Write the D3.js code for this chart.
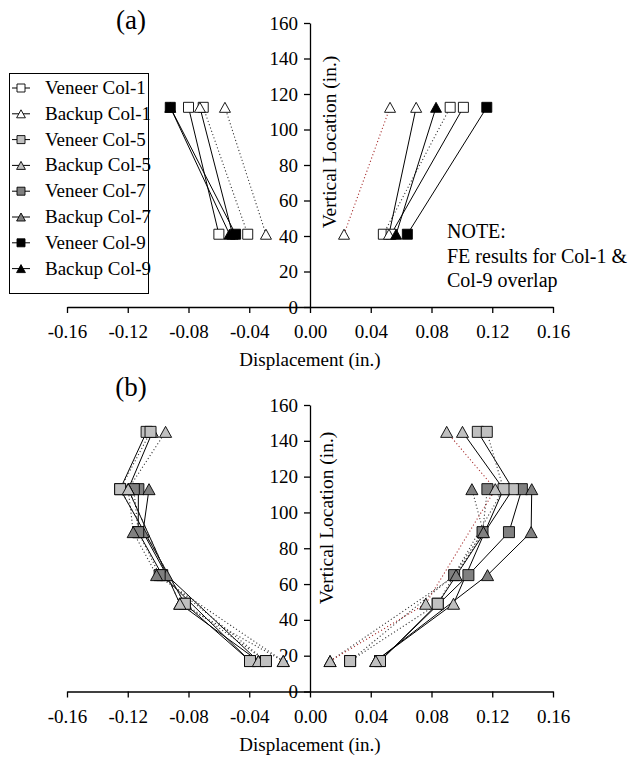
<!DOCTYPE html>
<html>
<head>
<meta charset="utf-8">
<script src="https://cdn.jsdelivr.net/npm/d3@7"></script>
<style>
  html, body { margin: 0; padding: 0; background: #fff; }
  svg { display: block; }
  svg text { font-family: "Liberation Serif", "Times New Roman", serif !important; fill: #000; }
</style>
</head>
<body>
<svg id="chart" width="639" height="764"></svg>
<script>
// ---- axis ticks ----
const xTicks = [-0.16, -0.12, -0.08, -0.04, 0, 0.04, 0.08, 0.12, 0.16];
const yTicks = [0, 20, 40, 60, 80, 100, 120, 140, 160];

// ---- legend ----
const legendNames  = ["Veneer Col-1", "Backup Col-1", "Veneer Col-5", "Backup Col-5",
                      "Veneer Col-7", "Backup Col-7", "Veneer Col-9", "Backup Col-9"];
const legendShapes = ["square", "triangle", "square", "triangle",
                      "square", "triangle", "square", "triangle"];
const legendFills  = ["#ffffff", "#ffffff", "#c0c0c0", "#c0c0c0",
                      "#808080", "#808080", "#000000", "#000000"];

// ---- panel (a): gauge heights (in.) ----
const heightsA = [41, 112.5];
// displacement towards negative side
const aV1Neg   = [-0.060, -0.080];
const aB1Neg   = [-0.051, -0.0725];
const aV1NegFE = [-0.041, -0.0703];
const aB1NegFE = [-0.029, -0.056];
const aV9Neg   = [-0.049, -0.092];
const aB9Neg   = [-0.053, -0.092];
// displacement towards positive side
const aV1Pos   = [0.0534, 0.101];
const aB1Pos   = [0.052, 0.0699];
const aV1PosFE = [0.0483, 0.0923];
const aB1PosFE = [0.0224, 0.0527];
const aV9Pos   = [0.0641, 0.1164];
const aB9Pos   = [0.0567, 0.083];

// ---- panel (b): gauge heights (in.) ----
const heightsC5 = [17, 49, 113, 145];
const heightsC7 = [17, 65, 89, 113];
// positive side
const bV5Pos   = [0.0461, 0.0841, 0.1336, 0.1105];
const bB5Pos   = [0.0433, 0.0945, 0.1274, 0.1004];
const bV5PosFE = [0.0264, 0.0841, 0.1274, 0.1164];
const bB5PosFE = [0.0132, 0.0762, 0.122, 0.090];
const bV7Pos   = [0.0461, 0.1043, 0.131, 0.1395];
const bB7Pos   = [0.0433, 0.1169, 0.1456, 0.146];
const bV7PosFE = [0.0264, 0.0949, 0.1136, 0.1168];
const bB7PosFE = [0.0132, 0.0962, 0.1142, 0.1066];
// negative side
const bV5Neg   = [-0.0395, -0.0824, -0.125, -0.1076];
const bB5Neg   = [-0.034, -0.0857, -0.1197, -0.1037];
const bV5NegFE = [-0.029, -0.0824, -0.125, -0.105];
const bB5NegFE = [-0.0176, -0.0857, -0.1197, -0.0951];
const bV7Neg   = [-0.0395, -0.0973, -0.1131, -0.113];
const bB7Neg   = [-0.034, -0.0944, -0.110, -0.106];
const bV7NegFE = [-0.029, -0.099, -0.1131, -0.116];
const bB7NegFE = [-0.0176, -0.101, -0.1164, -0.1197];

const WHITE = "#ffffff", LIGHT = "#c0c0c0", DARK = "#808080", BLACK = "#000000";
const SERIF = '"Liberation Serif", "Times New Roman", serif';

// each trace: heights, values, marker shape, fill, line style
const tracesA = [
  { h: heightsA, v: aV1NegFE, shape: "square",   fill: WHITE, line: "dot" },
  { h: heightsA, v: aB1NegFE, shape: "triangle", fill: WHITE, line: "dot" },
  { h: heightsA, v: aV1PosFE, shape: "square",   fill: WHITE, line: "dot" },
  { h: heightsA, v: aB1PosFE, shape: "triangle", fill: WHITE, line: "red" },
  { h: heightsA, v: aV1Neg,   shape: "square",   fill: WHITE, line: "solid" },
  { h: heightsA, v: aB1Neg,   shape: "triangle", fill: WHITE, line: "solid" },
  { h: heightsA, v: aV1Pos,   shape: "square",   fill: WHITE, line: "solid" },
  { h: heightsA, v: aB1Pos,   shape: "triangle", fill: WHITE, line: "solid" },
  { h: heightsA, v: aV9Neg,   shape: "square",   fill: BLACK, line: "solid" },
  { h: heightsA, v: aB9Neg,   shape: "triangle", fill: BLACK, line: "solid" },
  { h: heightsA, v: aV9Pos,   shape: "square",   fill: BLACK, line: "solid" },
  { h: heightsA, v: aB9Pos,   shape: "triangle", fill: BLACK, line: "solid" }
];

const tracesB = [
  { h: heightsC7, v: bV7Pos,   shape: "square",   fill: DARK,  line: "solid" },
  { h: heightsC7, v: bB7Pos,   shape: "triangle", fill: DARK,  line: "solid" },
  { h: heightsC7, v: bV7PosFE, shape: "square",   fill: DARK,  line: "dot" },
  { h: heightsC7, v: bB7PosFE, shape: "triangle", fill: DARK,  line: "dot" },
  { h: heightsC7, v: bV7Neg,   shape: "square",   fill: DARK,  line: "solid" },
  { h: heightsC7, v: bB7Neg,   shape: "triangle", fill: DARK,  line: "solid" },
  { h: heightsC7, v: bV7NegFE, shape: "square",   fill: DARK,  line: "dot" },
  { h: heightsC7, v: bB7NegFE, shape: "triangle", fill: DARK,  line: "dot" },
  { h: heightsC5, v: bV5Pos,   shape: "square",   fill: LIGHT, line: "solid" },
  { h: heightsC5, v: bB5Pos,   shape: "triangle", fill: LIGHT, line: "solid" },
  { h: heightsC5, v: bV5PosFE, shape: "square",   fill: LIGHT, line: "dot" },
  { h: heightsC5, v: bB5PosFE, shape: "triangle", fill: LIGHT, line: "red" },
  { h: heightsC5, v: bV5Neg,   shape: "square",   fill: LIGHT, line: "solid" },
  { h: heightsC5, v: bB5Neg,   shape: "triangle", fill: LIGHT, line: "solid" },
  { h: heightsC5, v: bV5NegFE, shape: "square",   fill: LIGHT, line: "dot" },
  { h: heightsC5, v: bB5NegFE, shape: "triangle", fill: LIGHT, line: "dot" }
];

const svg = d3.select("#chart");
const fmtX = d => d.toFixed(2);

function markerPath(shape, s) {
  if (shape === "square") return `M${-s/2},${-s/2}h${s}v${s}h${-s}Z`;
  const w = s * 0.55, hh = s / 2;
  return `M0,${-hh}L${w},${hh}L${-w},${hh}Z`;
}

function lineStyle(sel, kind) {
  if (kind === "solid") {
    sel.attr("stroke", "#000").attr("stroke-width", 1);
  } else if (kind === "dot") {
    sel.attr("stroke", "#333").attr("stroke-width", 1.1).attr("stroke-dasharray", "1.1,2.4");
  } else {
    sel.attr("stroke", "#a52a2a").attr("stroke-width", 1.1).attr("stroke-dasharray", "1.1,2.4");
  }
}

function drawPanel(cfg) {
  const x = d3.scaleLinear().domain([-0.16, 0.16]).range([67, 553]);
  const y = d3.scaleLinear().domain([0, 160]).range([cfg.y0, cfg.y160]);
  const g = svg.append("g");

  // x axis
  const xa = g.append("g")
    .attr("transform", `translate(0,${cfg.y0})`)
    .call(d3.axisBottom(x).tickValues(xTicks).tickFormat(fmtX)
      .tickSize(6).tickSizeOuter(0).tickPadding(12));
  // y axis
  const ya = g.append("g")
    .attr("transform", `translate(${x(0)},0)`)
    .call(d3.axisLeft(y).tickValues(yTicks).tickFormat(d3.format("d"))
      .tickSize(6).tickSizeOuter(0).tickPadding(6));
  [xa, ya].forEach(a => {
    a.attr("font-family", SERIF);
    a.select(".domain").attr("stroke", "#000").attr("stroke-width", 1.3);
    a.selectAll(".tick line").attr("stroke", "#000").attr("stroke-width", 1.3);
    a.selectAll("text").attr("font-size", 19).style("font-family", SERIF);
  });

  // axis titles
  g.append("text")
    .attr("x", x(0)).attr("y", cfg.y0 + 59)
    .attr("text-anchor", "middle").attr("font-size", 19)
    .style("font-family", SERIF)
    .text("Displacement (in.)");
  g.append("text")
    .attr("transform", `translate(${cfg.ylabX},${cfg.ylabY}) rotate(-90)`)
    .attr("text-anchor", "middle").attr("font-size", 19.5)
    .style("font-family", SERIF)
    .text("Vertical Location (in.)");

  // panel tag
  g.append("text")
    .attr("x", 131).attr("y", cfg.tagY)
    .attr("text-anchor", "middle").attr("font-size", 27)
    .style("font-family", SERIF)
    .text(cfg.tag);

  // lines
  const line = d3.line().x(d => x(d[1])).y(d => y(d[0]));
  cfg.traces.forEach(t => {
    const pts = t.h.map((hv, i) => [hv, t.v[i]]);
    g.append("path").datum(pts).attr("d", line).attr("fill", "none")
      .call(lineStyle, t.line);
  });
  // markers
  cfg.traces.forEach(t => {
    t.h.forEach((hv, i) => {
      g.append("path")
        .attr("d", markerPath(t.shape, cfg.ms))
        .attr("transform", `translate(${x(t.v[i])},${y(hv)})`)
        .attr("fill", t.fill).attr("stroke", "#000").attr("stroke-width", 0.9);
    });
  });
  return { x, y };
}

drawPanel({ y0: 307, y160: 23, traces: tracesA, ms: 10, tag: "(a)", tagY: 29,
            ylabX: 336, ylabY: 142 });
drawPanel({ y0: 691.5, y160: 405, traces: tracesB, ms: 11, tag: "(b)", tagY: 396,
            ylabX: 333, ylabY: 518 });

// note in panel (a)
const note = svg.append("g");
["NOTE:", "FE results for Col-1 &", "Col-9 overlap"].forEach((s, i) => {
  note.append("text").attr("x", 447).attr("y", 238 + i * 24.5)
    .attr("font-size", 20).style("font-family", SERIF).text(s);
});

// legend
const leg = svg.append("g");
leg.append("rect").attr("x", 9.5).attr("y", 73.5).attr("width", 139).attr("height", 220)
  .attr("fill", "#fff").attr("stroke", "#000").attr("stroke-width", 1);
legendNames.forEach((name, i) => {
  const cy = 88 + i * 25.8;
  leg.append("line").attr("x1", 12).attr("x2", 30).attr("y1", cy).attr("y2", cy)
    .attr("stroke", "#000").attr("stroke-width", 1);
  leg.append("path").attr("d", markerPath(legendShapes[i], 8))
    .attr("transform", `translate(21,${cy})`)
    .attr("fill", legendFills[i]).attr("stroke", "#000").attr("stroke-width", 0.9);
  leg.append("text").attr("x", 45).attr("y", cy + 6).attr("font-size", 19)
    .style("font-family", SERIF).text(name);
});
</script>
</body>
</html>
